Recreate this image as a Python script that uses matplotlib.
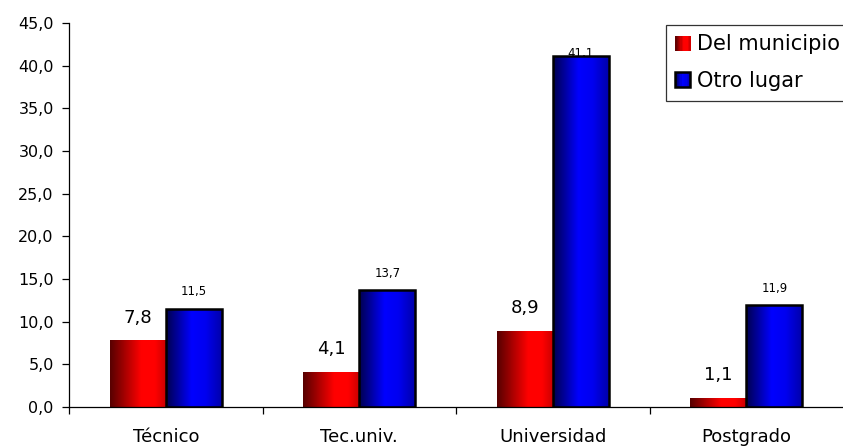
import matplotlib

matplotlib.use('Agg')
import matplotlib.pyplot as plt
import numpy as np
from matplotlib.colors import LinearSegmentedColormap
from matplotlib.legend_handler import HandlerBase
from matplotlib.patches import Rectangle

categories = ['Técnico', 'Tec.univ.', 'Universidad', 'Postgrado']
del_municipio = [7.8, 4.1, 8.9, 1.1]
otro_lugar = [11.5, 13.7, 41.1, 11.9]
series_names = ['Del municipio', 'Otro lugar']
yticks = np.arange(0, 46, 5)

plt.rcParams['font.family'] = ['DejaVu Sans']

red_cmap = LinearSegmentedColormap.from_list(
    'redg', [(0, '#580000'), (0.55, '#ff0000'), (0.8, '#ff0000'), (1, '#c80000')])
blue_cmap = LinearSegmentedColormap.from_list(
    'blueg', [(0, '#000050'), (0.45, '#0000ff'), (0.7, '#0000f0'), (1, '#0000a8')])
grad = np.linspace(0, 1, 64).reshape(1, -1)


def comma(v):
    return ('%.1f' % v).replace('.', ',')


def gradient_bars(ax, bars, cmap):
    for b in bars:
        x0, y0 = b.get_x(), b.get_y()
        w, h = b.get_width(), b.get_height()
        im = ax.imshow(grad, cmap=cmap, extent=(x0, x0 + w, y0, y0 + h),
                       aspect='auto', zorder=2, interpolation='bicubic')
        im.set_clip_path(b)


class GradHandler(HandlerBase):
    def __init__(self, cmap, edge):
        super().__init__()
        self.cmap = cmap
        self.edge = edge

    def create_artists(self, legend, orig_handle, xdescent, ydescent,
                       width, height, fontsize, trans):
        s = width
        x0 = -xdescent
        y0 = -ydescent + (height - s) / 2
        arts = []
        n = 12
        for i in range(n):
            r = Rectangle((x0 + s * i / n, y0), s / n + 0.3, s,
                          facecolor=self.cmap((i + 0.5) / n), edgecolor='none',
                          transform=trans)
            arts.append(r)
        if self.edge:
            arts.append(Rectangle((x0, y0), s, s, facecolor='none',
                                  edgecolor='black', linewidth=1.8, transform=trans))
        return arts


fig = plt.figure(figsize=(8.43, 4.48), dpi=100)
ax = fig.add_axes([0.0819, 0.0915, 0.9181, 0.8572])

x = np.arange(len(categories))
w = 0.29
b1 = ax.bar(x - w / 2, del_municipio, w, facecolor='none', edgecolor='none', zorder=3)
b2 = ax.bar(x + w / 2, otro_lugar, w, facecolor='none', edgecolor='black',
            linewidth=1.8, zorder=3)
gradient_bars(ax, b1, red_cmap)
gradient_bars(ax, b2, blue_cmap)

for xi, v in zip(x, del_municipio):
    ax.text(xi - w / 2, v + 2.65, comma(v), ha='center', va='center',
            fontsize=13, zorder=1)
for xi, v in zip(x, otro_lugar):
    off = 2.0 if v < 40 else 0.3
    ax.text(xi + w / 2, v + off, comma(v), ha='center', va='center',
            fontsize=8.5, zorder=1)

ax.set_xlim(-0.5, len(categories) - 0.5)
ax.set_ylim(0, 45)
ax.set_yticks(yticks)
ax.set_yticklabels([comma(t) for t in yticks], fontsize=11.5)
ax.set_xticks(x)
ax.set_xticklabels(categories, fontsize=13)
ax.set_xticks(np.arange(-0.5, len(categories) - 1, 1), minor=True)
ax.tick_params(axis='x', which='major', length=0, pad=15)
ax.tick_params(axis='x', which='minor', length=5, width=0.9)
ax.tick_params(axis='y', length=5, width=0.9, pad=6)
for s in ['top', 'right']:
    ax.spines[s].set_visible(False)
for s in ['left', 'bottom']:
    ax.spines[s].set_linewidth(0.9)

h1 = Rectangle((0, 0), 1, 1)
h2 = Rectangle((0, 0), 1, 1)
leg = fig.legend([h1, h2], series_names, loc='upper left',
                 bbox_to_anchor=(0.79, 0.944), fontsize=15, frameon=True,
                 fancybox=False, borderpad=0.45, labelspacing=0.8,
                 handlelength=0.72, handletextpad=0.3, borderaxespad=0,
                 handler_map={h1: GradHandler(red_cmap, False),
                              h2: GradHandler(blue_cmap, True)})
leg.get_frame().set_edgecolor('black')
leg.get_frame().set_linewidth(0.9)

plt.savefig('out.png', dpi=100)
plt.close()
